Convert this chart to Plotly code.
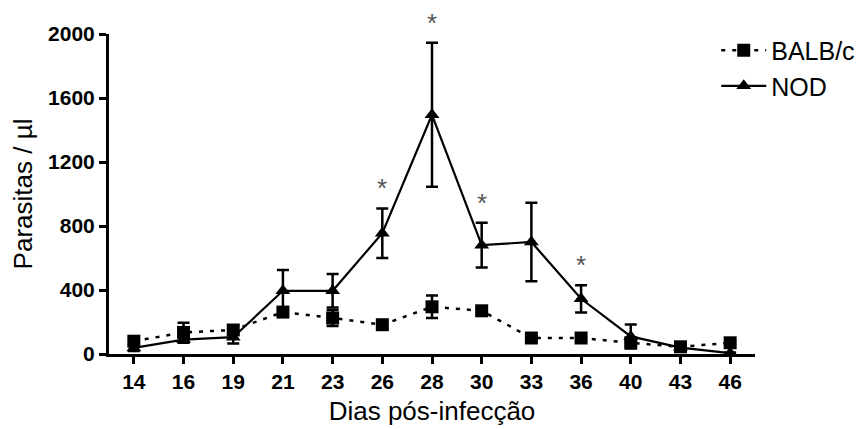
import plotly.graph_objects as go

# Days post-infection (categorical, evenly spaced)
dias = ["14", "16", "19", "21", "23", "26", "28", "30", "33", "36", "40", "43", "46"]

# Mean parasitaemia (parasites / µl) and SEM
balb_mean = [80, 135, 150, 262, 225, 183, 295, 270, 100, 100, 70, 45, 70]
balb_sem = [20, 60, 30, 25, 50, 25, 70, 15, 10, 10, 20, 10, 10]

nod_mean = [38, 90, 105, 395, 395, 755, 1495, 680, 700, 345, 110, 40, 5]
nod_sem = [20, 20, 40, 130, 105, 155, 450, 140, 245, 85, 75, 15, 5]

# Days flagged as significantly different
sig_days = ["26", "28", "30", "36"]

FONT = "Liberation Sans, Arial, sans-serif"

fig = go.Figure()

fig.add_trace(go.Scatter(
    x=dias, y=balb_mean, name="BALB/c", mode="lines+markers",
    line=dict(color="black", width=2.5, dash="4px,7px"),
    marker=dict(symbol="square", size=13, color="black"),
    error_y=dict(type="data", array=balb_sem, color="black", thickness=2.5, width=6),
    cliponaxis=False,
))

fig.add_trace(go.Scatter(
    x=dias, y=nod_mean, name="NOD", mode="lines+markers",
    line=dict(color="black", width=2.2),
    marker=dict(symbol="triangle-up", size=13, color="black"),
    error_y=dict(type="data", array=nod_sem, color="black", thickness=2.5, width=6),
    cliponaxis=False,
))

# Significance asterisks above the NOD error bars (x given as category index)
for d in sig_days:
    i = dias.index(d)
    fig.add_annotation(
        x=i, xref="x", y=nod_mean[i] + nod_sem[i], yref="y", text="*",
        showarrow=False, yanchor="bottom", yshift=3,
        font=dict(family=FONT, size=26, color="#555555"),
    )

fig.update_layout(
    width=864, height=429,
    margin=dict(l=109, r=109, t=34, b=75, autoexpand=False),
    paper_bgcolor="white", plot_bgcolor="white",
    font=dict(family=FONT, color="black"),
    showlegend=True,
    legend=dict(
        x=0.94, y=1.02, xanchor="left", yanchor="top",
        font=dict(family=FONT, size=25, color="black"),
        bgcolor="rgba(0,0,0,0)", tracegroupgap=0, itemwidth=45,
    ),
    xaxis=dict(
        type="category", range=[-0.5, 12.5], automargin=False,
        showline=True, linecolor="black", linewidth=3,
        ticks="outside", ticklen=7, tickwidth=3, tickcolor="black",
        tickfont=dict(family=FONT, size=21, color="black", weight="bold"),
        showgrid=False, zeroline=False,
        title=dict(text="Dias pós-infecção", font=dict(family=FONT, size=26), standoff=10),
    ),
    yaxis=dict(
        range=[0, 2000], tickvals=[0, 400, 800, 1200, 1600, 2000], automargin=False,
        showline=True, linecolor="black", linewidth=3,
        ticks="outside", ticklen=7, tickwidth=3, tickcolor="black",
        tickfont=dict(family=FONT, size=21, color="black", weight="bold"),
        showgrid=False, zeroline=False,
        title=dict(text="Parasitas / µl", font=dict(family=FONT, size=26), standoff=8),
    ),
)

fig.write_html("out.html")
